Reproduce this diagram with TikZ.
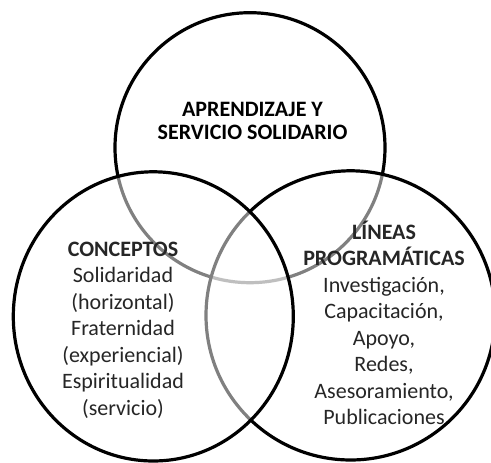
\documentclass[tikz,border=0pt]{standalone}
\usepackage{fontspec}
\setmainfont{Carlito}
\usepackage{tikz}

\tikzset{
  kreis/.style={draw=black, line width=3.2pt, fill=white, fill opacity=0.5},
  texto/.style={align=center, inner sep=0pt, text=black!85, font=\fontsize{22}{26.5}\selectfont},
  titulo/.style={texto, text=black, font=\fontsize{22}{23.3}\selectfont\bfseries},
}

\begin{document}
\begin{tikzpicture}[x=1pt,y=1pt]
\useasboundingbox (0,0) rectangle (491,463);
\draw[kreis] (250,315.3) circle [radius=135];
\draw[kreis] (350.6,147.6) circle [radius=144.6];
\draw[kreis] (153.3,146.6) ellipse [x radius=140, y radius=144.6];
\node[titulo] (aps) at (252.5,342) {APRENDIZAJE Y\\SERVICIO SOLIDARIO};
\node[texto] (conceptos) at (123,133) {\textbf{CONCEPTOS}\\
Solidaridad\\
(horizontal)\\
Fraternidad\\
(experiencial)\\
Espiritualidad\\
(servicio)};
\node[texto] (lineas) at (384,140) {\textbf{LÍNEAS}\\
\textbf{PROGRAMÁTICAS}\\
Investigación,\\
Capacitación,\\
Apoyo,\\
Redes,\\
Asesoramiento,\\
Publicaciones};
\end{tikzpicture}
\end{document}
